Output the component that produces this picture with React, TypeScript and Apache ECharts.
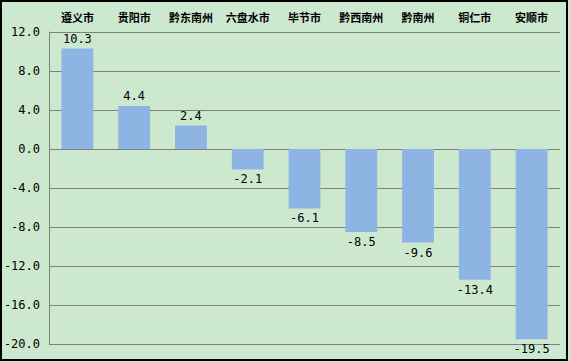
import React, { useEffect, useRef } from "react";
import * as echarts from "echarts";

const categories = ["遵义市", "贵阳市", "黔东南州", "六盘水市", "毕节市", "黔西南州", "黔南州", "铜仁市", "安顺市"];
const values = [10.3, 4.4, 2.4, -2.1, -6.1, -8.5, -9.6, -13.4, -19.5];

export default function App() {
  const ref = useRef<HTMLDivElement>(null);
  useEffect(() => {
    const chart = echarts.init(ref.current!, undefined, { renderer: "svg" });
    chart.setOption({
      animation: false,
      backgroundColor: "#CCE8CF",
      graphic: [
        {
          type: "rect",
          shape: { x: 1, y: 1, width: 566, height: 359 },
          style: { fill: "none", stroke: "#000", lineWidth: 2 },
          z: 100,
        },
      ],
      grid: { left: 49, right: 10, top: 32, bottom: 18, containLabel: false },
      xAxis: {
        type: "category",
        data: categories,
        position: "top",
        axisLine: { show: false },
        axisTick: { show: false },
        axisLabel: {
          interval: 0,
          margin: 10,
          fontFamily: "Noto Sans CJK SC",
          fontWeight: "bold",
          fontSize: 11,
          color: "#000",
        },
      },
      yAxis: {
        type: "value",
        min: -20,
        max: 12,
        interval: 4,
        axisLine: { show: true, lineStyle: { color: "#808080", width: 1 } },
        axisTick: { show: false },
        splitLine: { show: true, lineStyle: { color: "#808080", width: 1 } },
        axisLabel: {
          margin: 9,
          fontFamily: "DejaVu Sans Mono",
          fontSize: 12,
          color: "#000",
          formatter: (v: number) => v.toFixed(1),
        },
      },
      series: [
        {
          type: "bar",
          data: values.map((v) => ({
            value: v,
            label: { position: v >= 0 ? "top" : "bottom" },
          })),
          barWidth: "56%",
          itemStyle: { color: "#8EB4E3" },
          label: {
            show: true,
            distance: 4,
            fontFamily: "DejaVu Sans Mono",
            fontSize: 12,
            color: "#000",
            formatter: (p: any) => Number(p.value).toFixed(1),
          },
        },
      ],
    });
    return () => chart.dispose();
  }, []);
  return (
    <div
      ref={ref}
      style={{ position: "fixed", left: 0, top: 0, width: 570, height: 362 }}
    />
  );
}
